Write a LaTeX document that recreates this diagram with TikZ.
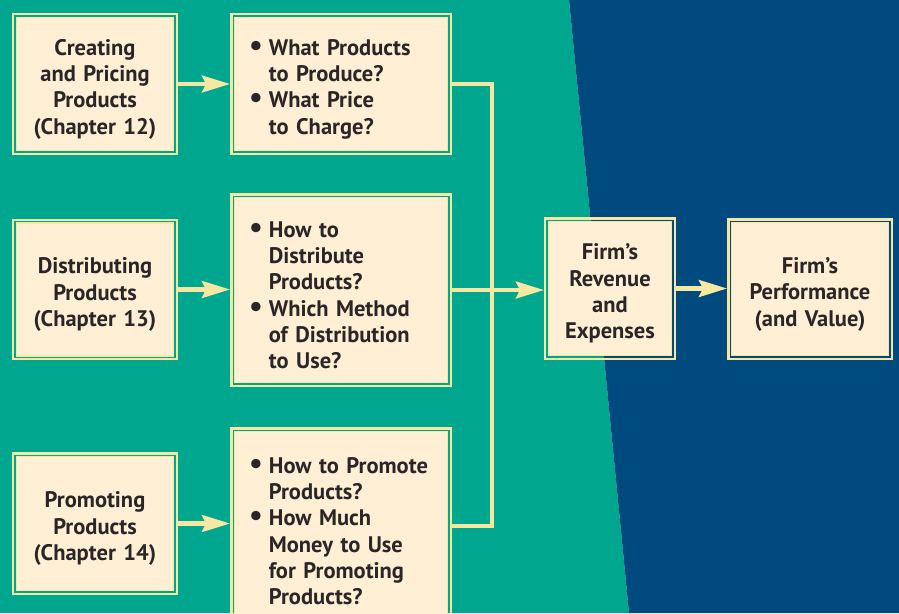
\documentclass[tikz,border=0pt]{standalone}
\usepackage{fontspec}
\setmainfont{PT Sans}
\usetikzlibrary{arrows.meta}
\definecolor{sea}{HTML}{00A78E}
\definecolor{navy}{HTML}{004A7F}
\definecolor{cream}{HTML}{FFF0D5}
\definecolor{straw}{HTML}{F6E7A2}
\definecolor{ink}{HTML}{2A2526}
\newcommand\bul{\makebox[11.3pt][l]{\scalebox{1.35}{\textbullet}}}
\newcommand\ind{\hspace*{11.3pt}}

\begin{document}
\begin{tikzpicture}[
  x=0.02cm, y=-0.02cm,
  font=\fontsize{12.8}{15.0}\selectfont\bfseries\color{ink},
  box/.style={draw=straw,line width=0.85pt,fill=cream,inner sep=0pt,outer sep=0.09cm,align=center,
    execute at begin node={\rule{0pt}{15pt}}},
  src/.style={box,minimum width=3.14cm,minimum height=2.66cm,text width=2.9cm},
  ask/.style={box,minimum width=4.26cm,text width=3.68cm,align=left,
    execute at begin node={\rule{0pt}{14pt}}},
  frame/.style={draw=straw,line width=1.4pt},
  flow/.style={draw=straw,line width=2.55pt,-{Stealth[length=16pt,width=9.6pt,inset=2.4pt]}},
  bus/.style={draw=straw,line width=2.55pt},
]

\clip (0,0) rectangle (899,613);
\fill[sea] (0,0) -- (569,0) -- (629,613) -- (0,613) -- cycle;
\fill[navy] (569,0) -- (899,0) -- (899,613) -- (629,613) -- cycle;

\node[src] (crt) at (95,84) {Creating\\and Pricing\\Products\\(Chapter 12)};
\node[src] (dst) at (95,289.5) {Distributing\\Products\\(Chapter 13)};
\node[src,minimum height=2.68cm] (pro) at (95,523.5) {Promoting\\Products\\(Chapter 14)};

\node[ask,minimum height=2.66cm] (cwhat) at (341,84)
  {\bul What Products\\\ind to Produce?\\\bul What Price\\\ind to Charge?};
\node[ask,minimum height=3.70cm] (dwhat) at (341,290)
  {\bul How to\\\ind Distribute\\\ind Products?\\\bul Which Method\\\ind of Distribution\\\ind to Use?};
\node[ask,minimum height=3.78cm] (phow) at (341,526)
  {\bul How to Promote\\\ind Products?\\\bul How Much\\\ind Money to Use\\\ind for Promoting\\\ind Products?};

\node[box,minimum width=2.46cm,minimum height=2.68cm,text width=2.3cm] (rev) at (610,288.5) {Firm’s\\Revenue\\and\\Expenses};
\node[src,minimum height=2.66cm] (perf) at (810,289) {Firm’s\\Performance\\(and Value)};

\foreach \n in {crt,dst,pro,cwhat,dwhat,phow,rev,perf}
  \draw[frame] ([shift={(0.025cm,0.025cm)}]\n.south west) rectangle ([shift={(-0.025cm,-0.025cm)}]\n.north east);

\coordinate (join) at (492,290);
\draw[bus] (cwhat.east) -| (join) |- (phow.east);

\draw[flow] (crt.east) -- (crt.east -| cwhat.west);
\draw[flow] (dst.east) -- (dst.east -| dwhat.west);
\draw[flow] (pro.east) -- (pro.east -| phow.west);
\draw[flow] (dwhat.east) -- (dwhat.east -| rev.west);
\draw[flow] (rev.east) -- (rev.east -| perf.west);
\end{tikzpicture}
\end{document}
